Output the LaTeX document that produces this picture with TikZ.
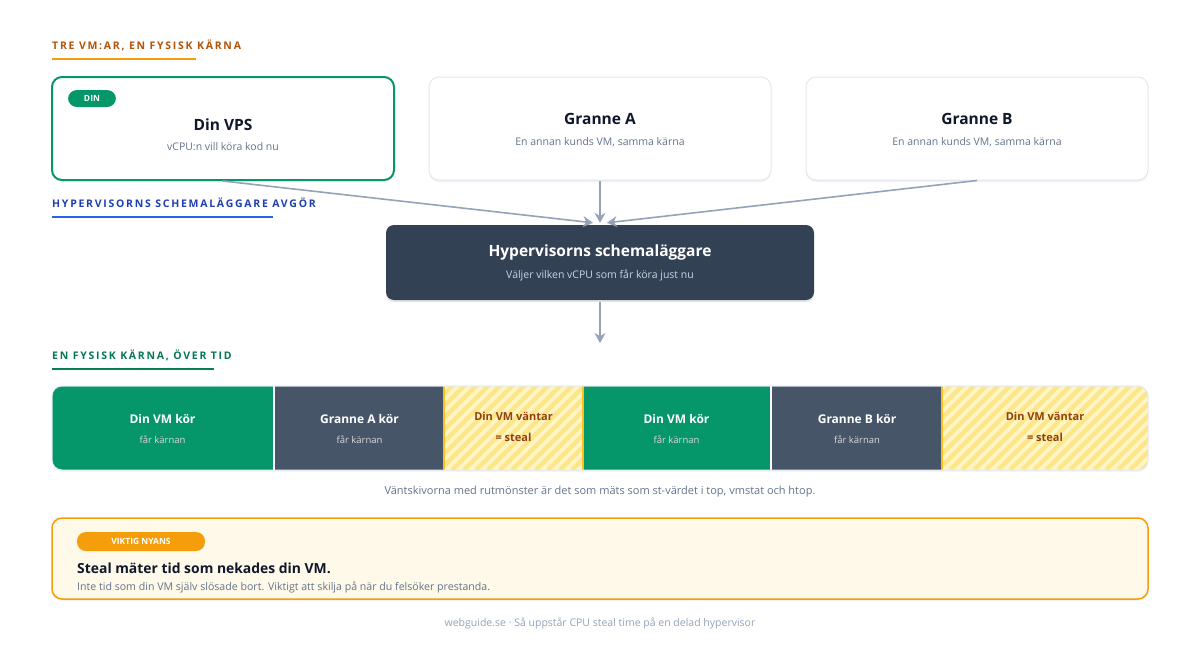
\documentclass[tikz,border=0pt]{standalone}
\usepackage{fontspec}
\setmainfont{Open Sans}
\newfontfamily\headfont[LetterSpace=16.5]{Open Sans}
\usetikzlibrary{arrows.meta, calc, shadows}

\definecolor{dingreen}{HTML}{059669}
\definecolor{headgreen}{HTML}{047857}
\definecolor{headorange}{HTML}{B45309}
\definecolor{lineorange}{HTML}{F59E0B}
\definecolor{headblue}{HTML}{1E40AF}
\definecolor{lineblue}{HTML}{2563EB}
\definecolor{cardline}{HTML}{E2E8F0}
\definecolor{inkdark}{HTML}{0F172A}
\definecolor{inkgrey}{HTML}{64748B}
\definecolor{arrowgrey}{HTML}{94A3B8}
\definecolor{schedfill}{HTML}{334155}
\definecolor{schedsub}{HTML}{CBD5E1}
\definecolor{slatefill}{HTML}{475569}
\definecolor{waitbg}{HTML}{FEF6C8}
\definecolor{waitstripe}{HTML}{FDE68A}
\definecolor{waitline}{HTML}{FBBF24}
\definecolor{waitink}{HTML}{92400E}
\definecolor{notefill}{HTML}{FEF9E8}
\definecolor{footink}{HTML}{94A3B8}

\begin{document}
\begin{tikzpicture}[x=1pt, y=-1pt,
    softshadow/.style={drop shadow={shadow xshift=0pt, shadow yshift=-2pt, fill=black, opacity=#1}},
    card/.style={draw=cardline, line width=1pt, fill=white, rounded corners=10pt,
        minimum width=342pt, minimum height=103pt, inner sep=0pt, softshadow=0.05},
    cardtitle/.style={font=\fontsize{15.5}{18}\selectfont\bfseries, text=inkdark},
    cardsub/.style={font=\fontsize{10.5}{12}\selectfont, text=inkgrey},
    heading/.style={anchor=west, inner sep=0pt, font=\headfont\fontsize{10.5}{12}\selectfont\bfseries},
    pill/.style={rounded corners=9pt, text=white, font=\fontsize{8.5}{10}\selectfont\bfseries, inner sep=0pt},
    segtitle/.style={font=\fontsize{12}{14}\selectfont\bfseries, text=white},
    segsub/.style={font=\fontsize{9.5}{11}\selectfont, text=white!85!black},
    waittext/.style={font=\fontsize{11}{13}\selectfont\bfseries, text=waitink},
    flow/.style={draw=arrowgrey, line width=1.6pt, -{Stealth[length=10pt, width=11pt]}},
    stripe/.style={draw=waitstripe, line width=4.5pt}]

    \useasboundingbox[fill=white] (0,0) rectangle (1200,651);

    \node[heading, text=headorange] (head1) at (52,45) {TRE VM:AR, EN FYSISK KÄRNA};
    \draw[lineorange, line width=2.5pt] (52,59) -- (196,59);

    \node[card, draw=dingreen, line width=2pt] (din) at (223,128.5) {};
    \node[pill, fill=dingreen, minimum width=48pt, minimum height=17pt] (dinbadge) at (92,98.5) {DIN};
    \node[cardtitle] (dintitle) at (223,125) {Din VPS};
    \node[cardsub] (dinsub) at (223,147) {vCPU:n vill köra kod nu};

    \node[card] (grannea) at (600,128.5) {};
    \node[cardtitle] (granneatitle) at (600,119) {Granne A};
    \node[cardsub] (granneasub) at (600,142) {En annan kunds VM, samma kärna};

    \node[card] (granneb) at (977,128.5) {};
    \node[cardtitle] (grannebtitle) at (977,119) {Granne B};
    \node[cardsub] (grannebsub) at (977,142) {En annan kunds VM, samma kärna};

    \node[heading, text=headblue] (head2) at (52,203) {HYPERVISORNS SCHEMALÄGGARE AVGÖR};
    \draw[lineblue, line width=2.5pt] (52,217) -- (273,217);

    \node[fill=schedfill, rounded corners=8pt, minimum width=428pt, minimum height=75pt, inner sep=0pt,
        softshadow=0.1] (sched) at (600,262.5) {};
    \node[font=\fontsize{15.5}{18}\selectfont\bfseries, text=white] (schedtitle) at (600,252) {Hypervisorns schemaläggare};
    \node[font=\fontsize{10.5}{12}\selectfont, text=schedsub] (schedsub) at (600,275) {Väljer vilken vCPU som får köra just nu};

    \draw[flow] (din.south) -- ($(sched.north)+(-7,-2)$);
    \draw[flow] (grannea.south) -- ($(sched.north)+(0,-2)$);
    \draw[flow] (granneb.south) -- ($(sched.north)+(7,-2)$);

    \coordinate (timetop) at (600,343);
    \draw[flow] ($(sched.south)+(0,2)$) -- (timetop);

    \node[heading, text=headgreen] (head3) at (52,355) {EN FYSISK KÄRNA, ÖVER TID};
    \draw[headgreen!80!dingreen, line width=2.5pt] (52,369) -- (214,369);

    % tidslinjen
    \fill[black, opacity=0.04] (52,388) [rounded corners=10pt] rectangle (1148,472);
    \begin{scope}
        \clip[rounded corners=10pt] (52,386) rectangle (1148,470);
        \fill[white] (52,386) rectangle (1148,470);
        \fill[dingreen] (52,386) rectangle (273,470);
        \fill[slatefill] (275,386) rectangle (444,470);
        \fill[dingreen] (583,386) rectangle (770,470);
        \fill[slatefill] (772,386) rectangle (942,470);
        \foreach \a/\b in {444/583, 942/1148} {
            \begin{scope}
                \clip (\a,386) rectangle (\b,470);
                \fill[waitbg] (\a,386) rectangle (\b,470);
                \foreach \s in {-100,-88,...,220}
                    \draw[stripe] (\a+\s,470) -- ++(100,-100);
            \end{scope}
        }
        \draw[waitline, line width=2pt] (444,386) -- (444,470);
        \draw[waitline, line width=2pt] (583,386) -- (583,470);
        \draw[waitline, line width=2pt] (942,386) -- (942,470);
    \end{scope}
    \draw[cardline, line width=1pt, rounded corners=10pt] (52,386) rectangle (1148,470);

    \node[segtitle] (run1) at (162.5,419) {Din VM kör};
    \node[segsub] (run1sub) at (162.5,440) {får kärnan};
    \node[segtitle] (grannearun) at (359.5,419) {Granne A kör};
    \node[segsub] (grannearunsub) at (359.5,440) {får kärnan};
    \node[waittext] (wait1) at (513.5,416) {Din VM väntar};
    \node[waittext] (wait1sub) at (513.5,437) {= steal};
    \node[segtitle] (run2) at (676.5,419) {Din VM kör};
    \node[segsub] (run2sub) at (676.5,440) {får kärnan};
    \node[segtitle] (grannebrun) at (857,419) {Granne B kör};
    \node[segsub] (grannebrunsub) at (857,440) {får kärnan};
    \node[waittext] (wait2) at (1045,416) {Din VM väntar};
    \node[waittext] (wait2sub) at (1045,437) {= steal};

    \node[font=\fontsize{11}{13}\selectfont, text=inkgrey] (caption) at (600,492)
        {Väntskivorna med rutmönster är det som mäts som st-värdet i top, vmstat och htop.};

    % notisen
    \node[draw=lineorange, line width=1.5pt, fill=notefill, rounded corners=10pt,
        minimum width=1096pt, minimum height=81pt, inner sep=0pt, softshadow=0.05]
        (note) at (600,558.5) {};
    \node[pill, fill=lineorange, minimum width=128pt, minimum height=19pt] (notebadge) at (141,541.5) {VIKTIG NYANS};
    \node[anchor=west, inner sep=0pt, font=\fontsize{13.9}{17}\selectfont\bfseries, text=inkdark] (notetitle)
        at (77,568) {Steal mäter tid som nekades din VM.};
    \node[anchor=west, inner sep=0pt, font=\fontsize{10.6}{12}\selectfont, text=inkgrey] (notesub)
        at (77,587) {Inte tid som din VM själv slösade bort. Viktigt att skilja på när du felsöker prestanda.};

    \node[font=\fontsize{10.5}{12}\selectfont, text=footink] (footer) at (600,623)
        {webguide.se · Så uppstår CPU steal time på en delad hypervisor};
\end{tikzpicture}
\end{document}
